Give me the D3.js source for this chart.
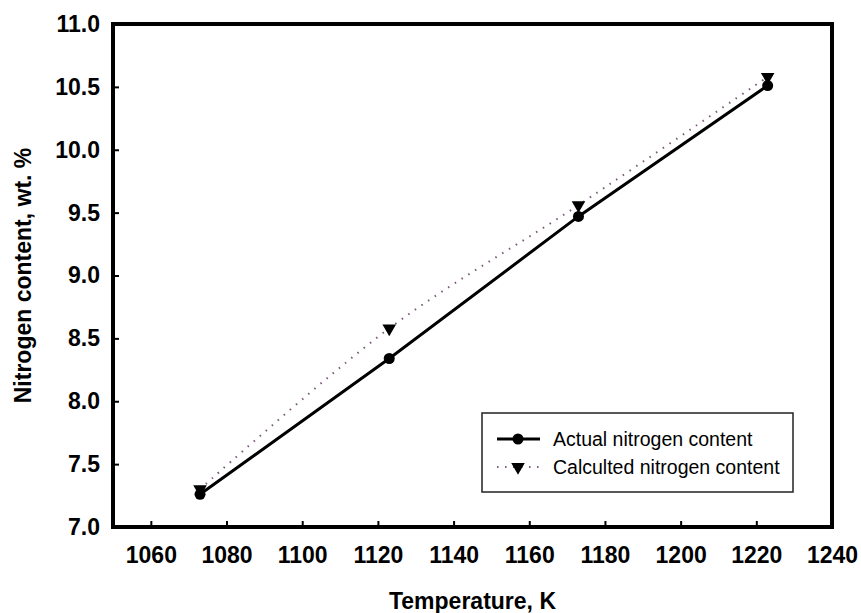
<!DOCTYPE html>
<html>
<head>
  <meta charset="utf-8">
  <script src="https://d3js.org/d3.v7.min.js"></script>
  <style>
    body { margin: 0; background: #fff; }
    svg { display: block; font-family: "Liberation Sans", Arial, sans-serif; }
  </style>
</head>
<body>
  <div id="chart"></div>
  <script>
    // data
    const temps = [1073, 1123, 1173, 1223];
    const actual = [7.26, 8.34, 9.47, 10.51];
    const calculated = [7.30, 8.58, 9.56, 10.58];
    const xTicks = [1060, 1080, 1100, 1120, 1140, 1160, 1180, 1200, 1220, 1240];
    const yTicks = [7.0, 7.5, 8.0, 8.5, 9.0, 9.5, 10.0, 10.5, 11.0];
    const seriesNames = ["Actual nitrogen content", "Calculted nitrogen content"];

    const width = 861, height = 613;
    const margin = { top: 24, right: 29, bottom: 86, left: 113 };
    const w = width - margin.left - margin.right;
    const h = height - margin.top - margin.bottom;

    const svg = d3.select("#chart").append("svg")
      .attr("width", width).attr("height", height);
    const g = svg.append("g").attr("transform", `translate(${margin.left},${margin.top})`);

    const x = d3.scaleLinear().domain([1050, 1240]).range([0, w]);
    const y = d3.scaleLinear().domain([7, 11]).range([h, 0]);

    // axes (ticks point inward)
    const xAxis = g.append("g").attr("transform", `translate(0,${h})`)
      .call(d3.axisBottom(x).tickValues(xTicks).tickFormat(d3.format("d"))
        .tickSizeInner(-6).tickSizeOuter(0).tickPadding(20));
    const yAxis = g.append("g")
      .call(d3.axisLeft(y).tickValues(yTicks).tickFormat(d3.format(".1f"))
        .tickSizeInner(-6).tickSizeOuter(0).tickPadding(13));

    [xAxis, yAxis].forEach(a => {
      a.select(".domain").remove();
      a.selectAll(".tick line").attr("stroke", "#000").attr("stroke-width", 2);
      a.selectAll(".tick text")
        .attr("fill", "#000")
        .style("font-size", "23px")
        .style("font-weight", "bold")
        .style("font-family", "'Liberation Sans', Arial, sans-serif");
    });

    // frame
    g.append("rect")
      .attr("x", 0).attr("y", 0).attr("width", w).attr("height", h)
      .attr("fill", "none").attr("stroke", "#000").attr("stroke-width", 4);

    const actualData = temps.map((t, i) => ({ t, v: actual[i] }));
    const calcData = temps.map((t, i) => ({ t, v: calculated[i] }));

    // calculated: dotted smoothed line
    g.append("path")
      .datum(calcData)
      .attr("fill", "none")
      .attr("stroke", "#7a5a7a")
      .attr("stroke-width", 2)
      .attr("stroke-dasharray", "1.5,6.5")
      .attr("d", d3.line().x(d => x(d.t)).y(d => y(d.v)).curve(d3.curveCatmullRom));

    // actual: solid line
    g.append("path")
      .datum(actualData)
      .attr("fill", "none")
      .attr("stroke", "#000")
      .attr("stroke-width", 3)
      .attr("d", d3.line().x(d => x(d.t)).y(d => y(d.v)));

    const tri = d3.symbol().type(d3.symbolTriangle).size(80);

    g.selectAll(".calc-pt")
      .data(calcData)
      .join("path")
      .attr("class", "calc-pt")
      .attr("d", tri)
      .attr("transform", d => `translate(${x(d.t)},${y(d.v)}) rotate(180)`)
      .attr("fill", "#000");

    g.selectAll(".act-pt")
      .data(actualData)
      .join("circle")
      .attr("class", "act-pt")
      .attr("cx", d => x(d.t))
      .attr("cy", d => y(d.v))
      .attr("r", 5.5)
      .attr("fill", "#000");

    // axis titles
    svg.append("text")
      .attr("x", margin.left + w / 2)
      .attr("y", 609)
      .attr("text-anchor", "middle")
      .style("font-size", "23px")
      .style("font-weight", "bold")
      .text("Temperature, K");

    svg.append("text")
      .attr("transform", `translate(31,${margin.top + h / 2}) rotate(-90)`)
      .attr("text-anchor", "middle")
      .style("font-size", "23px")
      .style("font-weight", "bold")
      .text("Nitrogen content, wt. %");

    // legend
    const lg = svg.append("g").attr("transform", "translate(482,413)");
    lg.append("rect")
      .attr("width", 311).attr("height", 79)
      .attr("fill", "#fff").attr("stroke", "#222").attr("stroke-width", 1.5);

    const row1 = lg.append("g").attr("transform", "translate(0,26)");
    row1.append("line").attr("x1", 15).attr("x2", 58).attr("stroke", "#000").attr("stroke-width", 3);
    row1.append("circle").attr("cx", 36).attr("r", 5.5).attr("fill", "#000");
    row1.append("text").attr("x", 71).attr("dy", "0.35em")
      .style("font-size", "19.5px").text(seriesNames[0]);

    const row2 = lg.append("g").attr("transform", "translate(0,54)");
    row2.append("line").attr("x1", 15).attr("x2", 58)
      .attr("stroke", "#7a5a7a").attr("stroke-width", 2).attr("stroke-dasharray", "1.5,6.5");
    row2.append("path").attr("d", tri).attr("transform", "translate(36,0) rotate(180)").attr("fill", "#000");
    row2.append("text").attr("x", 71).attr("dy", "0.35em")
      .style("font-size", "19.5px").text(seriesNames[1]);
  </script>
</body>
</html>
